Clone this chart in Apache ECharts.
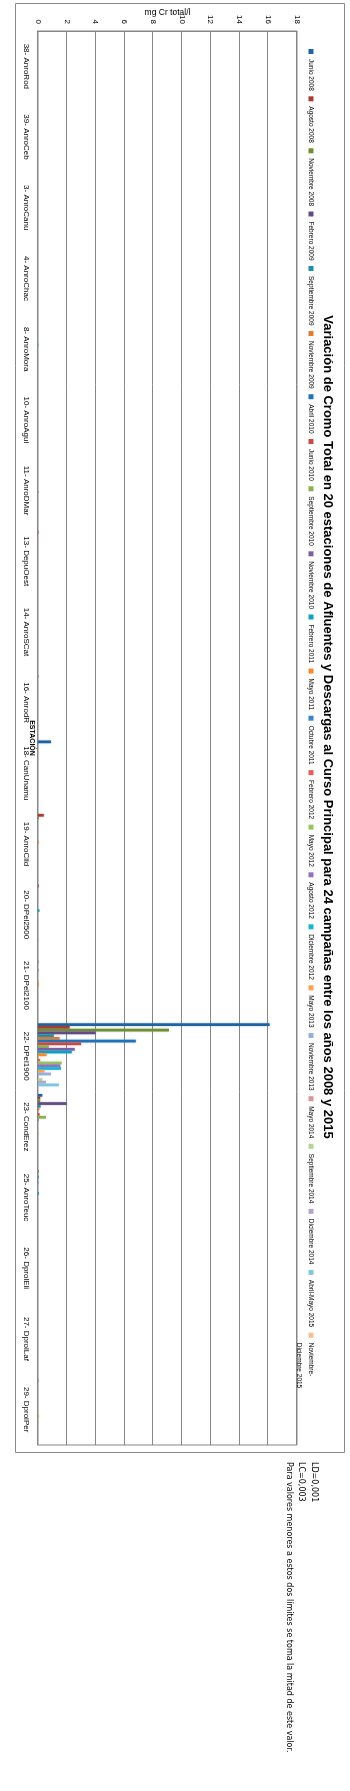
<!DOCTYPE html>
<html>
<head>
<meta charset="utf-8">
<script src="https://cdn.jsdelivr.net/npm/echarts@6/dist/echarts.min.js"></script>
<style>
html, body { margin: 0; padding: 0; width: 350px; height: 1791px; overflow: hidden; background: #fff; }
/* chart is drawn lying down (1791 x 350) and turned a quarter clockwise */
#cromo_con { position: absolute; left: 0; top: 0; width: 1791px; height: 350px;
  transform-origin: 0 0; transform: translate(350px, 0) rotate(90deg); }
</style>
</head>
<body>
<div id="cromo_con"></div>
<script>
const stations = ['38- AnroRod', '39- AnroCeb', '3- AnroCanu', '4- AnroChac', '8- AnroMora',
  '10- AnroAgui', '11- AnroDMar', '13- DepuOest', '14- AnroSCat', '16- AnrodR',
  '18- CanUnamu', '19- AnroCild', '20- DPel2500', '21- DPel2100', '22- DPel1900',
  '23- CondErez', '25- AnroTeuc', '26- DprolEli', '27- DprolLaf', '29- DprolPer'];

const campaigns = ['Junio 2008', 'Agosto 2008', 'Noviembre 2008', 'Febrero 2009', 'Septiembre 2009',
  'Noviembre 2009', 'Abril 2010', 'Junio 2010', 'Septiembre 2010', 'Noviembre 2010', 'Febrero 2011',
  'Mayo 2011', 'Octubre 2011', 'Febrero 2012', 'Mayo 2012', 'Agosto 2012', 'Diciembre 2012',
  'Mayo 2013', 'Noviembre 2013', 'Mayo 2014', 'Septiembre 2014', 'Diciembre 2014',
  'Abril-Mayo 2015', 'Noviembre-Diciembre 2015'];

const campaignColors = ['#1F64A0', '#A83B36', '#6E8F35', '#634B84', '#1E8FA8', '#E07B30',
  '#2272B6', '#C84A45', '#8BB052', '#7E5FA3', '#12A0BE', '#F58A30',
  '#3A85C8', '#E35E58', '#98C35A', '#9270BA', '#1AB3D6', '#FFA050',
  '#94B0DA', '#DA9694', '#B5D39B', '#B5A4CC', '#80C6DE', '#F9BE90'];

const valueTicks = { min: 0, max: 18, step: 2 };

// mg Cr total/l, one value per station (same order as stations)
const junio2008      = [0, 0, 0, 0, 0, 0, 0, 0, 0, 0, 0.9, 0, 0, 0, 16.1, 0.3, 0, 0, 0, 0];
const agosto2008     = [0, 0, 0, 0, 0, 0, 0, 0.03, 0, 0, 0, 0.4, 0.05, 0, 2.2, 0.15, 0, 0, 0, 0.02];
const noviembre2008  = [0, 0, 0, 0, 0, 0, 0, 0, 0, 0.03, 0, 0.05, 0, 0, 9.1, 0.15, 0.05, 0, 0, 0];
const febrero2009    = [0, 0, 0, 0, 0, 0, 0, 0, 0, 0, 0, 0, 0, 0.02, 4.0, 2.0, 0, 0, 0, 0];
const septiembre2009 = [0, 0, 0, 0, 0, 0, 0, 0, 0, 0, 0, 0, 0, 0, 1.1, 0.18, 0.05, 0, 0, 0];
const noviembre2009  = [0, 0, 0, 0, 0, 0, 0, 0, 0, 0, 0, 0, 0, 0, 1.5, 0.09, 0, 0, 0, 0];
const abril2010      = [0, 0, 0, 0, 0, 0, 0, 0, 0, 0, 0, 0, 0, 0.02, 6.8, 0, 0.02, 0, 0, 0];
const junio2010      = [0, 0, 0, 0, 0, 0, 0, 0, 0, 0, 0, 0, 0, 0, 3.0, 0.11, 0, 0, 0, 0];
const septiembre2010 = [0, 0, 0, 0, 0, 0, 0, 0, 0, 0, 0, 0, 0, 0, 0.75, 0.55, 0, 0, 0, 0];
const noviembre2010  = [0, 0, 0, 0, 0, 0, 0, 0, 0, 0, 0, 0, 0, 0, 2.55, 0.03, 0, 0, 0, 0];
const febrero2011    = [0, 0, 0, 0, 0.02, 0, 0, 0, 0, 0, 0, 0, 0.1, 0, 2.35, 0, 0.07, 0, 0, 0];
const mayo2011       = [0, 0, 0, 0, 0, 0, 0, 0, 0, 0, 0, 0.07, 0, 0.07, 0.6, 0, 0, 0, 0, 0];
const octubre2011    = [0, 0, 0, 0, 0, 0, 0.02, 0, 0, 0, 0, 0, 0, 0, 0, 0, 0, 0, 0, 0];
const febrero2012    = [0, 0, 0, 0, 0, 0, 0, 0, 0, 0, 0, 0, 0, 0, 0.15, 0, 0, 0, 0, 0];
const mayo2012       = [0, 0, 0, 0, 0, 0, 0, 0, 0, 0, 0, 0, 0, 0, 1.65, 0.02, 0, 0, 0, 0.05];
const agosto2012     = [0, 0, 0, 0, 0, 0, 0, 0, 0, 0, 0, 0, 0, 0, 1.55, 0, 0, 0, 0, 0];
const diciembre2012  = [0, 0, 0, 0, 0, 0, 0, 0, 0, 0, 0, 0, 0, 0, 1.6, 0, 0, 0, 0, 0];
const mayo2013       = [0, 0, 0, 0, 0, 0, 0, 0, 0, 0, 0, 0, 0, 0, 0.45, 0, 0, 0, 0, 0];
const noviembre2013  = [0, 0, 0, 0, 0, 0, 0, 0, 0, 0, 0, 0, 0, 0, 0.9, 0, 0, 0, 0, 0];
const mayo2014       = [0, 0, 0, 0, 0, 0, 0, 0, 0, 0, 0, 0, 0, 0, 0, 0, 0, 0, 0, 0];
const septiembre2014 = [0, 0, 0, 0, 0, 0, 0, 0, 0, 0, 0, 0, 0, 0, 0.3, 0, 0, 0, 0, 0];
const diciembre2014  = [0, 0, 0, 0, 0, 0, 0, 0, 0, 0, 0, 0, 0.02, 0, 0.55, 0, 0, 0, 0, 0];
const abrilMayo2015  = [0, 0, 0, 0, 0, 0, 0, 0, 0, 0, 0, 0, 0, 0, 1.45, 0, 0, 0, 0, 0];
const novDic2015     = [0, 0, 0, 0, 0, 0, 0, 0, 0, 0, 0, 0, 0, 0, 0, 0, 0, 0, 0, 0];

const campaignValues = [junio2008, agosto2008, noviembre2008, febrero2009, septiembre2009,
  noviembre2009, abril2010, junio2010, septiembre2010, noviembre2010, febrero2011, mayo2011,
  octubre2011, febrero2012, mayo2012, agosto2012, diciembre2012, mayo2013, noviembre2013,
  mayo2014, septiembre2014, diciembre2014, abrilMayo2015, novDic2015];

const titleText = 'Variación de Cromo Total en 20 estaciones de Afluentes y Descargas al Curso Principal para 24 campañas entre los años 2008 y 2015';
const notes = ['LD=0,001', 'LC=0,003', 'Para valores menores a estos dos límites se toma la mitad de este valor.'];

const gridColor = '#868686';

const series = campaigns.map((name, i) => {
  return {
    name: name,
    type: 'bar',
    barGap: '0%',
    barCategoryGap: '7%',
    data: campaignValues[i],
    itemStyle: {
      color: campaignColors[i],
      shadowColor: campaignColors[i] + '70',
      shadowBlur: 2
    }
  };
});

const option = {
  animation: false,
  backgroundColor: '#fff',
  textStyle: { fontFamily: 'Liberation Sans' },
  color: campaignColors,
  legend: {
    data: campaigns,
    left: 49,
    top: 21,
    padding: 0,
    itemWidth: 5,
    itemHeight: 5,
    itemGap: 5.5,
    icon: 'rect',
    textStyle: { fontSize: 6.5, color: '#000', lineHeight: 12 },
    formatter: function (name) {
      // Excel wraps the last entry onto a second line
      return name.indexOf('-Dic') > 0 ? '\n' + name.replace('-Dic', '-\nDic') : name;
    }
  },
  grid: {
    left: 28,
    right: 346,
    top: 53,
    bottom: 38,
    show: true,
    borderColor: gridColor,
    borderWidth: 1
  },
  xAxis: {
    type: 'category',
    data: stations,
    name: 'ESTACIÓN',
    nameLocation: 'middle',
    nameGap: 3,
    nameMoveOverlap: false,
    nameTextStyle: { fontSize: 7, fontWeight: 'bold', color: '#000' },
    axisLine: { lineStyle: { color: gridColor } },
    axisTick: { length: 4, lineStyle: { color: gridColor } },
    axisLabel: { interval: 0, fontSize: 8, color: '#000', margin: 8 }
  },
  yAxis: {
    type: 'value',
    min: valueTicks.min,
    max: valueTicks.max,
    interval: valueTicks.step,
    name: 'mg Cr total/l',
    nameLocation: 'middle',
    nameGap: 14,
    nameRotate: 90,
    nameMoveOverlap: false,
    nameTextStyle: { fontSize: 8.5, color: '#000' },
    axisLine: { show: true, lineStyle: { color: gridColor } },
    axisTick: { show: false },
    axisLabel: { fontSize: 8, color: '#000', margin: 7 },
    splitLine: { lineStyle: { color: gridColor, width: 1 } }
  },
  graphic: [
    {
      type: 'rect',
      silent: true,
      shape: { x: 3.5, y: 5.5, width: 1449, height: 329 },
      style: { fill: 'none', stroke: '#898989', lineWidth: 1 }
    },
    {
      type: 'text',
      x: 727,
      y: 22,
      style: {
        text: titleText,
        font: 'bold 13px "Liberation Sans"',
        fill: '#000',
        align: 'center',
        verticalAlign: 'middle'
      }
    },
    {
      type: 'text', x: 1462, y: 35.5,
      style: { text: notes[0], font: '8px "DejaVu Sans"', fill: '#000', verticalAlign: 'middle' }
    },
    {
      type: 'text', x: 1462, y: 48.5,
      style: { text: notes[1], font: '8px "DejaVu Sans"', fill: '#000', verticalAlign: 'middle' }
    },
    {
      type: 'text', x: 1462, y: 61,
      style: { text: notes[2], font: '8px "DejaVu Sans"', fill: '#000', verticalAlign: 'middle' }
    }
  ],
  series: series
};

const cromoChart = echarts.init(document.getElementById('cromo_con'));
cromoChart.setOption(option);
</script>
</body>
</html>
